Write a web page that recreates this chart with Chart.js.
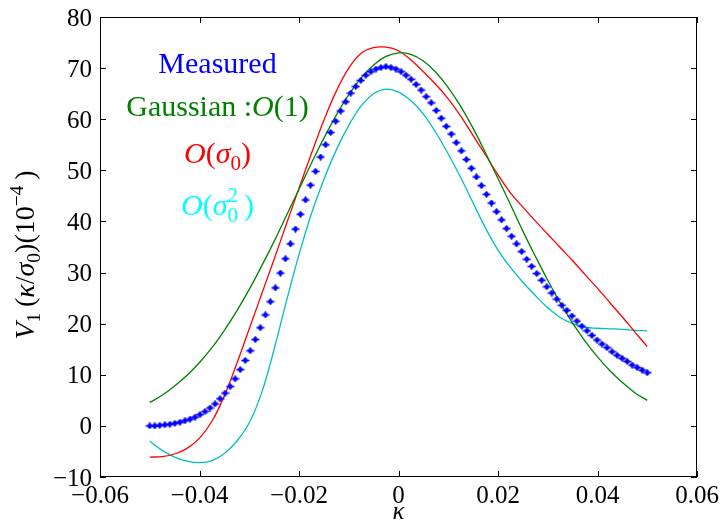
<!DOCTYPE html>
<html>
<head>
<meta charset="utf-8">
<script src="https://cdn.jsdelivr.net/npm/chart.js@4.4.1/dist/chart.umd.min.js"></script>
<style>
  html, body { margin: 0; padding: 0; background: #fff; }
</style>
</head>
<body>
<canvas id="chart" width="720" height="524"></canvas>
<script>
// Measured points (kappa, V1 in units of 1e-4)
const measuredKappa = [
  -0.05000, -0.04899, -0.04798, -0.04697, -0.04596, -0.04495, -0.04394, -0.04293, -0.04192, -0.04091,
  -0.03990, -0.03889, -0.03788, -0.03687, -0.03586, -0.03485, -0.03384, -0.03283, -0.03182, -0.03081,
  -0.02980, -0.02879, -0.02778, -0.02677, -0.02576, -0.02475, -0.02374, -0.02273, -0.02172, -0.02071,
  -0.01970, -0.01869, -0.01768, -0.01667, -0.01566, -0.01465, -0.01364, -0.01263, -0.01162, -0.01061,
  -0.00960, -0.00859, -0.00758, -0.00657, -0.00556, -0.00455, -0.00354, -0.00253, -0.00152, -0.00051,
  0.00051, 0.00152, 0.00253, 0.00354, 0.00455, 0.00556, 0.00657, 0.00758, 0.00859, 0.00960,
  0.01061, 0.01162, 0.01263, 0.01364, 0.01465, 0.01566, 0.01667, 0.01768, 0.01869, 0.01970,
  0.02071, 0.02172, 0.02273, 0.02374, 0.02475, 0.02576, 0.02677, 0.02778, 0.02879, 0.02980,
  0.03081, 0.03182, 0.03283, 0.03384, 0.03485, 0.03586, 0.03687, 0.03788, 0.03889, 0.03990,
  0.04091, 0.04192, 0.04293, 0.04394, 0.04495, 0.04596, 0.04697, 0.04798, 0.04899, 0.05000
];
const measuredV1 = [
  0.0, 0.0, 0.1, 0.2, 0.3, 0.5, 0.7, 1.0, 1.3, 1.7,
  2.2, 2.8, 3.5, 4.3, 5.3, 6.4, 7.7, 9.2, 11.0, 12.8,
  14.7, 16.9, 19.2, 21.7, 24.3, 27.0, 29.9, 32.7, 35.6, 38.5,
  41.4, 44.2, 47.1, 49.8, 52.6, 55.0, 57.4, 59.6, 61.6, 63.4,
  65.1, 66.4, 67.6, 68.6, 69.3, 69.8, 70.1, 70.3, 70.1, 69.8,
  69.3, 68.6, 67.8, 66.8, 65.7, 64.4, 63.2, 61.7, 60.2, 58.6,
  57.1, 55.4, 53.8, 52.1, 50.4, 48.7, 47.0, 45.3, 43.6, 41.9,
  40.3, 38.6, 37.1, 35.6, 34.1, 32.6, 31.2, 29.8, 28.5, 27.2,
  26.0, 24.8, 23.6, 22.6, 21.5, 20.5, 19.5, 18.6, 17.7, 16.8,
  16.0, 15.3, 14.5, 13.8, 13.2, 12.6, 11.9, 11.4, 10.9, 10.4
];

// Theory curves, sampled every 0.0025 in kappa
const curveKappa = [
  -0.05, -0.0475, -0.045, -0.0425, -0.04, -0.0375, -0.035, -0.0325, -0.03, -0.0275,
  -0.025, -0.0225, -0.02, -0.0175, -0.015, -0.0125, -0.01, -0.0075, -0.005, -0.0025,
  0, 0.0025, 0.005, 0.0075, 0.01, 0.0125, 0.015, 0.0175, 0.02, 0.0225,
  0.025, 0.0275, 0.03, 0.0325, 0.035, 0.0375, 0.04, 0.0425, 0.045, 0.0475, 0.05
];
const gaussianV1 = [
  4.6, 6.0, 7.8, 9.9, 12.4, 15.3, 18.7, 22.5, 26.7, 31.3,
  36.1, 41.2, 46.3, 51.4, 56.3, 60.8, 64.8, 68.1, 70.6, 72.3,
  73.0, 72.7, 71.4, 69.2, 66.2, 62.5, 58.2, 53.4, 48.4, 43.3,
  38.1, 33.2, 28.5, 24.1, 20.1, 16.6, 13.5, 10.8, 8.5, 6.5, 5.0
];
const sigma0V1 = [
  -6.1, -6.0, -5.5, -4.4, -2.4, 0.9, 5.9, 12.2, 19.0, 25.8,
  32.6, 39.6, 46.5, 53.3, 59.8, 65.5, 70.0, 72.9, 74.0, 74.1,
  73.4, 71.6, 69.3, 66.8, 64.0, 60.6, 56.8, 53.0, 49.1, 45.6,
  42.8, 40.1, 37.5, 34.9, 32.3, 29.6, 26.9, 24.1, 21.3, 18.4, 15.5
];
const sigma0SqV1 = [
  -3.0, -4.8, -6.1, -6.9, -7.2, -6.8, -5.4, -3.0, 0.6, 6.5,
  15.0, 24.5, 33.5, 41.5, 48.2, 54.0, 58.8, 62.6, 65.0, 65.9,
  65.3, 63.6, 61.0, 57.4, 53.2, 48.6, 43.6, 38.7, 34.4, 31.0,
  28.1, 25.5, 23.1, 21.2, 20.0, 19.3, 19.1, 19.0, 18.9, 18.7, 18.6
];

const SERIF = '"Liberation Serif", "DejaVu Serif", serif';

function toPoints(xs, ys) {
  return xs.map((x, i) => ({ x: x, y: ys[i] }));
}

function fmtTick(v, digits) {
  if (Math.abs(v) < 1e-9) return '0';
  return (v < 0 ? '\u2212' : '') + Math.abs(v).toFixed(digits);
}

// small blue blob with a cross, like the errorbar markers
function makeMarker() {
  const c = document.createElement('canvas');
  c.width = 9; c.height = 7;
  const g = c.getContext('2d');
  g.fillStyle = '#0000ff';
  g.beginPath();
  g.arc(4.5, 3.5, 2.4, 0, Math.PI * 2);
  g.fill();
  g.fillRect(0.5, 2.7, 8, 1.6);
  g.fillRect(3.7, 0.3, 1.6, 6.4);
  return c;
}

// draw text made of pieces (italic, sub/superscripts), centred on x
function drawRich(ctx, parts, x, y, size, color) {
  const fontOf = p => (p.i ? 'italic ' : '') + (size * (p.s || 1)) + 'px ' + SERIF;
  let total = 0;
  parts.forEach(p => {
    ctx.font = fontOf(p);
    p.w = ctx.measureText(p.t).width;
    if (!p.keep) total += p.w;
  });
  let cx = x - total / 2;
  ctx.fillStyle = color;
  ctx.textAlign = 'left';
  ctx.textBaseline = 'alphabetic';
  parts.forEach(p => {
    ctx.font = fontOf(p);
    ctx.fillText(p.t, cx, y + (p.dy || 0) * size);
    if (!p.keep) cx += p.w;
  });
}

const annotations = {
  id: 'annotations',
  afterDraw(chart) {
    const ctx = chart.ctx;
    const a = chart.chartArea;
    const xs = chart.scales.x, ys = chart.scales.y;
    ctx.save();
    // frame
    ctx.strokeStyle = '#000';
    ctx.lineWidth = 1;
    ctx.strokeRect(a.left + 0.5, a.top + 0.5, a.right - a.left - 1, a.bottom - a.top - 1);
    // inward ticks on all four sides
    const len = 6;
    ctx.beginPath();
    xs.ticks.forEach(t => {
      const px = Math.round(xs.getPixelForValue(t.value)) + 0.5;
      ctx.moveTo(px, a.bottom); ctx.lineTo(px, a.bottom - len);
      ctx.moveTo(px, a.top); ctx.lineTo(px, a.top + len);
    });
    ys.ticks.forEach(t => {
      const py = Math.round(ys.getPixelForValue(t.value)) + 0.5;
      ctx.moveTo(a.left, py); ctx.lineTo(a.left + len, py);
      ctx.moveTo(a.right, py); ctx.lineTo(a.right - len, py);
    });
    ctx.stroke();

    // tick labels
    ctx.fillStyle = '#000';
    ctx.font = '25px ' + SERIF;
    ctx.textBaseline = 'alphabetic';
    ctx.textAlign = 'center';
    xs.ticks.forEach(t => {
      ctx.fillText(fmtTick(t.value, 2), xs.getPixelForValue(t.value), a.bottom + 26);
    });
    ctx.textAlign = 'right';
    ys.ticks.forEach(t => {
      ctx.fillText(fmtTick(t.value, 0), a.left - 8, ys.getPixelForValue(t.value) + 8.5);
    });

    // series labels
    const cx = 217.5;
    drawRich(ctx, [{ t: 'Measured' }], cx, 73, 30, '#0000ff');
    drawRich(ctx, [{ t: 'Gaussian :' }, { t: 'O', i: 1 }, { t: '(1)' }], cx, 116, 30, '#008000');
    drawRich(ctx, [{ t: 'O', i: 1 }, { t: '(' }, { t: 'σ', i: 1 }, { t: '0', s: 0.7, dy: 0.22 }, { t: ')' }], cx, 163, 30, '#ff0000');
    drawRich(ctx, [{ t: 'O', i: 1 }, { t: '(' }, { t: 'σ', i: 1 }, { t: '0', s: 0.7, dy: 0.22, keep: 1 },
                   { t: '2', s: 0.7, dy: -0.42 }, { t: '\u2009)' }], cx, 215, 30, '#00ffff');

    // axis titles
    drawRich(ctx, [{ t: 'κ', i: 1 }], (a.left + a.right) / 2, 519, 25, '#000');
    ctx.translate(34, 255);
    ctx.rotate(-Math.PI / 2);
    drawRich(ctx, [{ t: 'V', i: 1 }, { t: '1', s: 0.7, dy: 0.2 }, { t: '\u2009(' }, { t: 'κ', i: 1 }, { t: '/' },
                   { t: 'σ', i: 1 }, { t: '0', s: 0.7, dy: 0.2 }, { t: ')(10' }, { t: '\u22124', s: 0.7, dy: -0.4 },
                   { t: '\u2009)' }],
             0, 0, 28, '#000');
    ctx.restore();
  }
};

const lineStyle = { showLine: true, pointRadius: 0, borderWidth: 1.3, tension: 0.4, order: 1 };

new Chart(document.getElementById('chart'), {
  type: 'scatter',
  data: {
    datasets: [
      { label: 'Measured', data: toPoints(measuredKappa, measuredV1), pointStyle: makeMarker(),
        pointRadius: 3, showLine: false, order: 0 },
      Object.assign({ label: 'Gaussian', data: toPoints(curveKappa, gaussianV1), borderColor: '#008000' }, lineStyle),
      Object.assign({ label: 'O(sigma0)', data: toPoints(curveKappa, sigma0V1), borderColor: '#ff0000' }, lineStyle),
      Object.assign({ label: 'O(sigma0^2)', data: toPoints(curveKappa, sigma0SqV1), borderColor: '#00bfbf' }, lineStyle)
    ]
  },
  options: {
    responsive: false,
    animation: false,
    layout: { padding: { top: 17, right: 23, left: 0, bottom: 0 } },
    plugins: { legend: { display: false }, tooltip: { enabled: false } },
    scales: {
      x: {
        type: 'linear', min: -0.06, max: 0.06,
        grid: { display: false, drawTicks: false },
        border: { display: false },
        afterFit: s => { s.height = 47; },
        ticks: { display: false, stepSize: 0.02 }
      },
      y: {
        type: 'linear', min: -10, max: 80,
        grid: { display: false, drawTicks: false },
        border: { display: false },
        afterFit: s => { s.width = 100; },
        ticks: { display: false, stepSize: 10 }
      }
    }
  },
  plugins: [annotations]
});
</script>
</body>
</html>
